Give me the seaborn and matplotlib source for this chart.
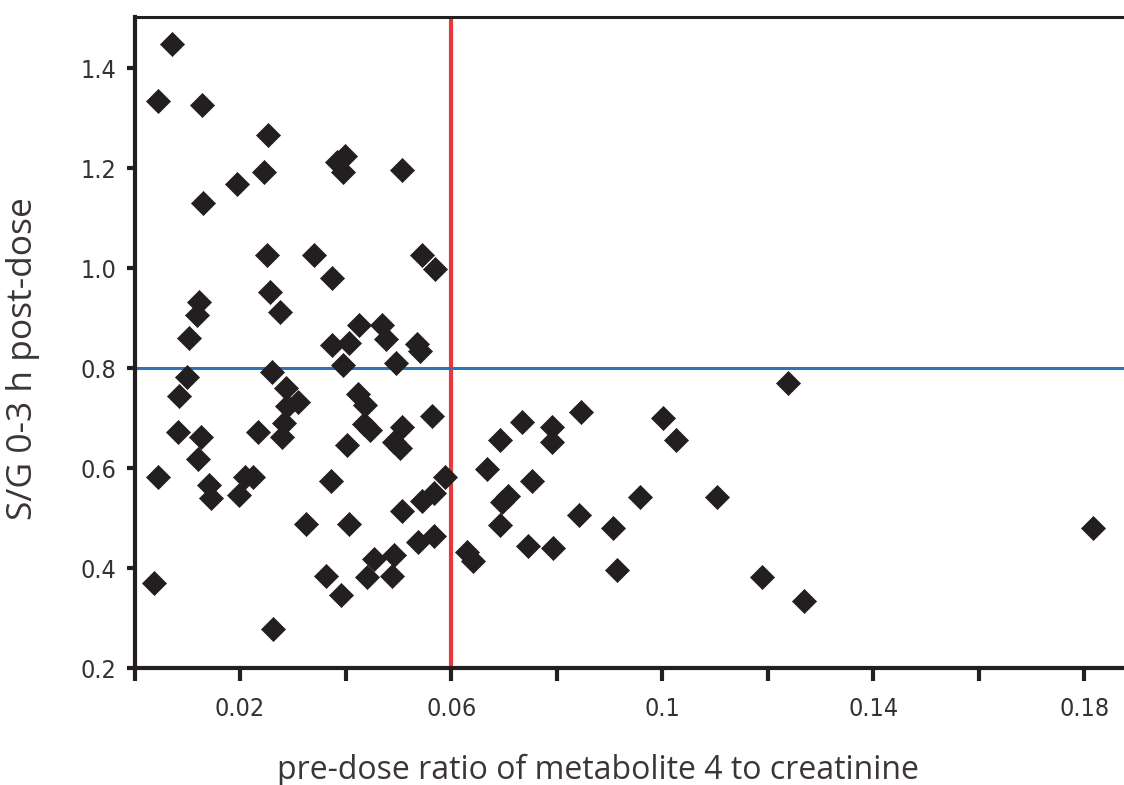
import matplotlib
matplotlib.use("Agg")
import matplotlib.pyplot as plt
import seaborn as sns
import pandas as pd
from matplotlib import font_manager as fm

ratio = [0.00717, 0.00451, 0.0127, 0.02537, 0.02461, 0.01943, 0.01304, 0.0399, 0.0383, 0.03953,
         0.05077, 0.02506, 0.03397, 0.03738, 0.05445, 0.05697, 0.02569, 0.02762, 0.01228, 0.0119,
         0.01039, 0.0425, 0.04698, 0.04768, 0.0375, 0.04061, 0.05355, 0.05403, 0.03953, 0.04957,
         0.01001, 0.00849, 0.02612, 0.02878, 0.03105, 0.02885, 0.02834, 0.02796, 0.04243, 0.04364,
         0.04351, 0.04464, 0.05071, 0.05634, 0.04023, 0.0492, 0.05033, 0.00819, 0.01266, 0.02347,
         0.01204, 0.00451, 0.01416, 0.01456, 0.02089, 0.02246, 0.01981, 0.03725, 0.05886, 0.05672,
         0.05445, 0.05077, 0.03247, 0.04066, 0.05672, 0.05369, 0.04925, 0.04546, 0.03625, 0.04402,
         0.04887, 0.03915, 0.00373, 0.02616, 0.06298, 0.06423, 0.1238, 0.08465, 0.1002, 0.0734,
         0.0791, 0.0791, 0.06929, 0.1026, 0.06677, 0.0753, 0.07086, 0.06961, 0.09583, 0.1104,
         0.08427, 0.06929, 0.09065, 0.07465, 0.07939, 0.09141, 0.1189, 0.1268, 0.1816]
sg = [1.448, 1.334, 1.326, 1.267, 1.192, 1.168, 1.130, 1.225, 1.212, 1.192,
      1.196, 1.027, 1.027, 0.980, 1.026, 0.999, 0.952, 0.912, 0.932, 0.906,
      0.861, 0.886, 0.886, 0.859, 0.846, 0.850, 0.848, 0.834, 0.806, 0.810,
      0.783, 0.744, 0.792, 0.761, 0.732, 0.724, 0.691, 0.662, 0.749, 0.726,
      0.689, 0.677, 0.682, 0.705, 0.646, 0.653, 0.641, 0.673, 0.662, 0.672,
      0.619, 0.582, 0.566, 0.540, 0.583, 0.583, 0.547, 0.574, 0.582, 0.551,
      0.535, 0.515, 0.488, 0.488, 0.464, 0.453, 0.426, 0.418, 0.385, 0.382,
      0.385, 0.346, 0.370, 0.279, 0.432, 0.415, 0.770, 0.712, 0.700, 0.693,
      0.682, 0.653, 0.656, 0.656, 0.598, 0.575, 0.545, 0.532, 0.543, 0.543,
      0.507, 0.487, 0.480, 0.445, 0.440, 0.396, 0.382, 0.335, 0.480]

x_ticks = [0.0, 0.02, 0.04, 0.06, 0.08, 0.10, 0.12, 0.14, 0.16, 0.18]
x_tick_labels = ["", "0.02", "", "0.06", "", "0.1", "", "0.14", "", "0.18"]
y_ticks = [0.2, 0.4, 0.6, 0.8, 1.0, 1.2, 1.4]
y_tick_labels = ["0.2", "0.4", "0.6", "0.8", "1.0", "1.2", "1.4"]
x_threshold = 0.06
y_threshold = 0.8

sns.set_style("ticks")
names = {f.name for f in fm.fontManager.ttflist}
label_font = "Open Sans" if "Open Sans" in names else "DejaVu Sans"
plt.rcParams["font.family"] = [label_font, "DejaVu Sans"]

df = pd.DataFrame({"ratio": ratio, "sg": sg})

fig = plt.figure(figsize=(11.24, 7.85), dpi=100)
ax = fig.add_axes([134.5 / 1124, 117 / 785, 0.8804, 651 / 785])

ax.axvline(x_threshold, color="#e8383d", lw=3, zorder=1)
ax.axhline(y_threshold, color="#2f73b8", lw=2.2, zorder=1)

sns.scatterplot(data=df, x="ratio", y="sg", marker="D", s=150, color="#231f20",
                edgecolor="#231f20", linewidth=0.5, ax=ax, zorder=3, legend=False)

ax.set_xlim(0, 0.1875)
ax.set_ylim(0.2, 1.502)

ink = "#231f20"
for side in ["left", "bottom"]:
    ax.spines[side].set_linewidth(3.0)
    ax.spines[side].set_color(ink)
ax.spines["top"].set_linewidth(2.2)
ax.spines["top"].set_color(ink)
ax.spines["right"].set_visible(False)

ax.set_xticks(x_ticks)
ax.set_xticklabels(x_tick_labels)
ax.set_yticks(y_ticks)
ax.set_yticklabels(y_tick_labels)
ax.tick_params(axis="x", direction="out", length=9, width=3, color=ink, pad=12,
               labelsize=18, labelcolor="#333333")
ax.tick_params(axis="y", direction="out", length=6, width=3, color=ink, pad=7,
               labelsize=18, labelcolor="#333333")
for lab in ax.get_xticklabels() + ax.get_yticklabels():
    lab.set_family("DejaVu Sans")
    lab.set_stretch("condensed")

ax.set_xlabel("pre-dose ratio of metabolite 4 to creatinine", fontsize=23, color="#3b3634")
ax.set_ylabel("S/G 0-3 h post-dose", fontsize=25.5, color="#3b3634")
ax.xaxis.set_label_coords(0.4687, -0.132)
ax.yaxis.set_label_coords(-0.0955, 0.475)

fig.savefig("out.png", dpi=100)
